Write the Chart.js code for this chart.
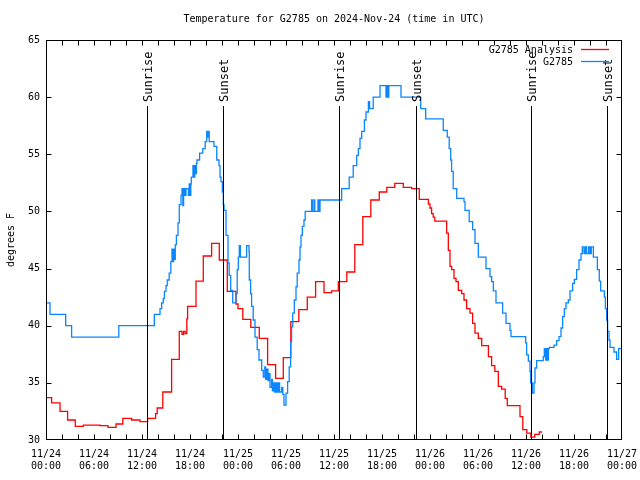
<!DOCTYPE html>
<html>
<head>
<meta charset="utf-8">
<title>Temperature for G2785</title>
<script src="https://cdn.jsdelivr.net/npm/chart.js@4.4.1/dist/chart.umd.min.js"></script>
<style>
  html, body { margin: 0; padding: 0; background: #fff; }
  #wrap { width: 640px; height: 480px; }
</style>
</head>
<body>
<div id="wrap"><canvas id="tempChart" width="640" height="480"></canvas></div>
<script>
'use strict';
// hours since 2024-11-24 00:00 UTC, value changes at each hour listed
var analysisHours = [0, 0.7, 1.75, 2.7, 3.66, 4.66, 6.75, 7.75, 8.75, 9.6,
    10.7, 11.75, 12.7, 13.7, 13.9, 14.6, 15.7, 16.66, 17.0, 17.2,
    17.4, 17.6, 17.7, 18.75, 19.66, 20.7, 21.66, 22.66, 23.75, 24.0,
    24.6, 25.6, 26.66, 27.7, 28.7, 29.66, 30.6, 31.6, 32.66, 33.7,
    34.75, 35.7, 36.54, 37.6, 38.6, 39.6, 40.6, 41.66, 42.6, 43.6,
    44.66, 45.7, 46.66, 47.8, 48.0, 48.2, 48.4, 48.6, 50.08, 50.29,
    50.5, 50.71, 51.0, 51.25, 51.54, 51.96, 52.25, 52.58, 53.0, 53.33,
    53.625, 54.04, 54.46, 55.3, 55.7, 56.1, 56.54, 56.96, 57.4, 57.66,
    59.25, 59.6, 60.1, 60.6, 61.1, 61.66, 62.0];
var analysisTemps = [33.7, 33.25, 32.5, 31.75, 31.2, 31.3, 31.25, 31.1, 31.4, 31.9,
    31.75, 31.6, 31.9, 32.3, 32.8, 34.2, 37.05, 39.5, 39.25, 39.5,
    39.3, 40.6, 41.7, 43.9, 46.1, 47.2, 45.75, 43.0, 41.9, 41.5,
    40.55, 39.85, 38.9, 36.6, 35.4, 37.2, 40.35, 41.4, 42.5, 43.85,
    42.9, 43.05, 43.85, 44.7, 47.1, 49.55, 51.0, 51.7, 52.1, 52.45,
    52.1, 52.0, 51.05, 50.65, 50.3, 49.8, 49.5, 49.15, 48.1, 46.6,
    45.2, 44.9, 44.15, 43.85, 43.1, 42.8, 42.25, 41.5, 41.1, 40.2,
    39.35, 38.9, 38.25, 37.3, 36.5, 36.0, 34.7, 34.45, 33.65, 33.0,
    32.05, 30.9, 30.6, 30.25, 30.5, 30.7, 30.7];

var obsHours = [0, 0.5, 2.46, 3.2, 9.1, 13.54, 14.25, 14.46, 14.66, 14.8,
    15.0, 15.16, 15.4, 15.6, 15.75, 15.85, 15.95, 16.05, 16.16, 16.3,
    16.5, 16.66, 16.875, 17.0, 17.1, 17.2, 17.35, 17.5, 17.8, 17.9,
    18.0, 18.1, 18.16, 18.37, 18.5, 18.6, 18.7, 18.8, 18.875, 19.2,
    19.6, 19.9, 20.09, 20.2, 20.3, 20.4, 21.0, 21.34, 21.625, 21.75,
    21.875, 22.04, 22.16, 22.25, 22.5, 22.75, 22.9, 23.09, 23.34, 23.75,
    23.9, 24.04, 24.16, 24.3, 25.08, 25.375, 25.41, 25.58, 25.7, 25.9,
    26.125, 26.4, 26.625, 26.96, 27.16, 27.35, 27.45, 27.6, 27.75, 27.9,
    28.0, 28.2, 28.3, 28.45, 28.6, 28.75, 28.9, 29.05, 29.2, 29.46,
    29.6, 29.75, 30.0, 30.2, 30.4, 30.58, 30.7, 30.84, 31.04, 31.25,
    31.4, 31.625, 31.75, 31.875, 32.04, 32.25, 32.4, 33.2, 33.3, 33.5,
    33.6, 34.0, 34.1, 34.25, 36.96, 37.9, 38.4, 38.84, 39.04, 39.25,
    39.46, 39.8, 40.0, 40.3, 40.45, 40.9, 41.75, 42.5, 42.6, 42.75,
    42.85, 44.375, 46.84, 47.46, 49.66, 50.16, 50.4, 50.59, 50.7, 50.9,
    51.34, 52.25, 52.375, 52.9, 53.33, 53.625, 54.04, 55.0, 55.5, 55.71,
    55.92, 56.25, 57.08, 57.5, 58.0, 58.125, 59.96, 60.08, 60.29, 60.5,
    60.58, 60.79, 61.0, 61.125, 61.33, 62.16, 62.29, 62.46, 62.58, 62.7,
    62.79, 62.92, 63.5, 63.83, 64.125, 64.375, 64.58, 64.79, 65.0, 65.29,
    65.5, 65.83, 66.04, 66.33, 66.625, 66.875, 67.04, 67.25, 67.42, 67.58,
    67.83, 68.0, 68.16, 68.42, 68.92, 69.16, 69.33, 69.79, 69.92, 70.08,
    70.2, 70.375, 70.5, 71.0, 71.33, 71.58, 71.96];
var obsTemps = [42.0, 41.0, 40.0, 39.0, 40.0, 41.0, 41.5, 42.0, 42.4, 43.0,
    43.5, 44.0, 44.6, 45.6, 46.7, 45.6, 46.7, 45.8, 47.1, 47.9,
    49.0, 50.6, 51.4, 52.0, 50.5, 52.0, 51.4, 52.0, 51.4, 52.4,
    51.4, 52.4, 53.0, 54.0, 53.0, 54.0, 53.3, 54.2, 54.5, 55.1,
    55.5, 56.1, 57.0, 56.5, 57.0, 56.1, 55.7, 54.5, 54.0, 53.0,
    52.6, 51.7, 50.6, 50.1, 47.9, 45.5, 44.4, 43.1, 42.0, 42.8,
    44.9, 46.0, 47.0, 46.0, 47.0, 46.5, 44.0, 42.8, 41.7, 40.5,
    39.0, 37.9, 37.0, 36.1, 35.5, 36.4, 35.3, 36.2, 35.2, 35.8,
    34.6, 35.3, 34.3, 35.0, 34.2, 35.0, 34.2, 35.0, 34.2, 34.6,
    34.0, 33.05, 34.1, 35.1, 36.4, 38.6, 39.9, 41.1, 42.25, 43.4,
    44.6, 45.75, 46.9, 47.9, 48.7, 49.25, 50.0, 51.0, 50.0, 51.0,
    50.0, 51.0, 50.0, 51.0, 52.0, 53.0, 54.0, 54.9, 55.5, 56.4,
    57.0, 58.0, 58.7, 59.6, 59.0, 60.0, 61.0, 60.0, 61.0, 60.0,
    61.0, 60.0, 59.0, 58.1, 57.1, 56.5, 55.5, 54.5, 53.5, 52.0,
    51.15, 50.85, 50.1, 49.1, 48.4, 47.2, 46.0, 45.0, 44.3, 43.85,
    43.05, 42.0, 41.1, 40.2, 39.6, 39.05, 38.5, 37.45, 36.9, 36.0,
    35.0, 34.1, 35.0, 36.3, 36.95, 37.3, 38.0, 37.0, 38.0, 37.0,
    38.0, 38.1, 38.3, 38.7, 39.05, 39.8, 40.8, 41.5, 42.0, 42.25,
    43.05, 43.7, 44.05, 44.9, 45.75, 46.3, 46.9, 46.3, 46.9, 46.3,
    46.9, 46.3, 46.9, 46.0, 44.9, 43.9, 43.05, 42.5, 41.5, 40.5,
    39.5, 38.75, 38.1, 37.7, 37.05, 38.0, 38.0];

var xTickDates = ['11/24', '11/24', '11/24', '11/24', '11/25', '11/25', '11/25',
    '11/25', '11/26', '11/26', '11/26', '11/26', '11/27'];
var xTickTimes = ['00:00', '06:00', '12:00', '18:00', '00:00', '06:00', '12:00',
    '18:00', '00:00', '06:00', '12:00', '18:00', '00:00'];
var sunHours = [12.65, 22.15, 36.62, 46.2, 60.62, 70.08];
var sunLabels = ['Sunrise', 'Sunset', 'Sunrise', 'Sunset', 'Sunrise', 'Sunset'];

var MONO = '"DejaVu Sans Mono", "Liberation Mono", monospace';

function toPoints(hours, temps) {
    return hours.map(function (h, i) { return { x: h, y: temps[i] }; });
}

// gnuplot look: box border, inward ticks, sun markers, legend inside top right
var gnuplotFrame = {
    id: 'gnuplotFrame',
    afterDatasetsDraw: function (chart) {
        var ctx = chart.ctx, area = chart.chartArea;
        var xs = chart.scales.x, ys = chart.scales.y;
        ctx.save();
        ctx.strokeStyle = '#000';
        ctx.fillStyle = '#000';
        ctx.lineWidth = 1;

        sunHours.forEach(function (h, i) {
            var px = Math.round(xs.getPixelForValue(h)) + 0.5;
            ctx.beginPath();
            ctx.moveTo(px, area.top + 66);
            ctx.lineTo(px, area.bottom);
            ctx.stroke();
            ctx.save();
            ctx.translate(px + 1, area.top + 62);
            ctx.rotate(-Math.PI / 2);
            ctx.font = '12px ' + MONO;
            ctx.textAlign = 'left';
            ctx.textBaseline = 'middle';
            ctx.fillText(sunLabels[i], 0, 0);
            ctx.restore();
        });

        var l = area.left + 0.5, r = area.right - 0.5, t = area.top + 0.5, b = area.bottom - 0.5;
        ctx.strokeRect(l, t, r - l, b - t);

        ctx.beginPath();
        for (var h = 2; h < 72; h += 2) {
            var px = Math.round(xs.getPixelForValue(h)) + 0.5;
            ctx.moveTo(px, b); ctx.lineTo(px, b - 5);
            ctx.moveTo(px, t); ctx.lineTo(px, t + 5);
        }
        for (var v = 35; v < 65; v += 5) {
            var py = Math.round(ys.getPixelForValue(v)) + 0.5;
            ctx.moveTo(l, py); ctx.lineTo(l + 5, py);
            ctx.moveTo(r, py); ctx.lineTo(r - 5, py);
        }
        ctx.stroke();

        // legend
        ctx.font = '10px ' + MONO;
        ctx.textAlign = 'right';
        ctx.textBaseline = 'middle';
        ctx.lineWidth = 1.3;
        chart.data.datasets.slice().sort(function (a, b) { return a.legendRow - b.legendRow; })
            .forEach(function (ds, i) {
                var y = area.top + 10 + i * 12;
                ctx.fillStyle = '#000';
                ctx.fillText(ds.label, area.right - 49, y);
                ctx.strokeStyle = ds.borderColor;
                ctx.beginPath();
                ctx.moveTo(area.right - 41, y - 0.5);
                ctx.lineTo(area.right - 13, y - 0.5);
                ctx.stroke();
            });
        ctx.restore();
    }
};

var chart = new Chart(document.getElementById('tempChart'), {
    type: 'line',
    data: {
        datasets: [{
            label: 'G2785',
            legendRow: 1,
            data: toPoints(obsHours, obsTemps),
            borderColor: '#0a86ff',
            borderWidth: 1.3,
            pointRadius: 0,
            stepped: true,
            order: 0
        }, {
            label: 'G2785 Analysis',
            legendRow: 0,
            data: toPoints(analysisHours, analysisTemps),
            borderColor: '#ff0000',
            borderWidth: 1.3,
            pointRadius: 0,
            stepped: true,
            order: 1
        }]
    },
    options: {
        responsive: false,
        animation: false,
        events: [],
        layout: { padding: 0 },
        plugins: {
            legend: { display: false },
            tooltip: { enabled: false },
            title: {
                display: true,
                fullSize: false,
                text: 'Temperature for G2785 on 2024-Nov-24 (time in UTC)',
                color: '#000',
                font: { family: MONO, size: 10, weight: 'normal' },
                padding: { top: 13, bottom: 15 }
            }
        },
        scales: {
            x: {
                type: 'linear',
                min: 0,
                max: 72,
                grid: { display: false, drawTicks: false },
                border: { display: false },
                afterFit: function (s) {
                    s.height = 40;
                    s.paddingLeft = 0;
                    s.paddingRight = 18;
                },
                ticks: {
                    stepSize: 6,
                    autoSkip: false,
                    maxRotation: 0,
                    minRotation: 0,
                    padding: 8,
                    color: '#000',
                    font: { family: MONO, size: 10 },
                    callback: function (value) {
                        var i = Math.round(value / 6);
                        return [xTickDates[i], xTickTimes[i]];
                    }
                }
            },
            y: {
                min: 30,
                max: 65,
                grid: { display: false, drawTicks: false },
                border: { display: false },
                afterFit: function (s) {
                    s.width = 46;
                    s.paddingTop = 0;
                    s.paddingBottom = 0;
                },
                title: {
                    display: true,
                    text: 'degrees F',
                    color: '#000',
                    font: { family: MONO, size: 10 },
                    padding: { top: 5, bottom: 0 }
                },
                ticks: {
                    stepSize: 5,
                    padding: 6,
                    color: '#000',
                    font: { family: MONO, size: 10 }
                }
            }
        }
    },
    plugins: [gnuplotFrame]
});
</script>
</body>
</html>
